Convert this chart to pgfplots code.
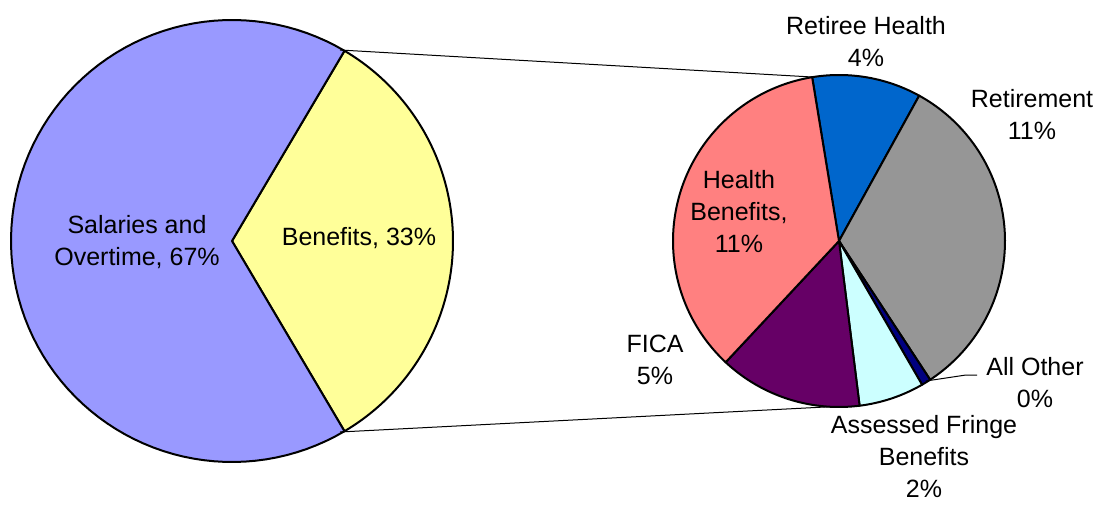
\documentclass[border=0pt]{standalone}
\usepackage{pgfplots}
\pgfplotsset{compat=1.18}
\usepackage{fontspec}
\setmainfont{Liberation Sans}
\definecolor{salc}{HTML}{9999FF}
\definecolor{benc}{HTML}{FFFF99}
\definecolor{rhc}{HTML}{0066CC}
\definecolor{retc}{HTML}{969696}
\definecolor{aoc}{HTML}{000080}
\definecolor{afc}{HTML}{CCFFFF}
\definecolor{ficac}{HTML}{660066}
\definecolor{hbc}{HTML}{FF8080}
% slice: cx cy r from-angle to-angle colour
\newcommand{\slice}[6]{%
  \addplot[draw=black, line width=1pt, fill=#6, line join=round, domain=#4:#5, samples=90, variable=\t]
    ({#1+#3*cos(\t)},{#2+#3*sin(\t)}) -- (axis cs:#1,#2) -- cycle;
}
\tikzset{lbl/.style={font=\fontsize{12.5}{16}\selectfont, align=center, text=black, inner sep=0pt}}
\begin{document}
\begin{tikzpicture}
% main pie: Salaries and Overtime 67, Benefits 33
\pgfmathsetmacro\mainB{33/100*360/2}
\pgfmathsetmacro\mainS{360-\mainB}
% secondary pie (shares of total): Retiree Health 3.5, Retirement 10.8, All Other 0.3,
% Assessed Fringe 2.1, FICA 4.6, Health Benefits 11.7  (sum 33)
\pgfmathsetmacro\aO{99.3}
\pgfmathsetmacro\aA{\aO-3.5/33*360}
\pgfmathsetmacro\aB{\aA-10.8/33*360}
\pgfmathsetmacro\aC{\aB-0.3/33*360}
\pgfmathsetmacro\aD{\aC-2.1/33*360}
\pgfmathsetmacro\aE{\aD-4.6/33*360}
\pgfmathsetmacro\aF{\aE-11.7/33*360}
\begin{axis}[
  scale only axis, width=549pt, height=252pt,
  xmin=0, xmax=1098, ymin=0, ymax=504,
  hide axis, clip=false,
]
\addplot[draw=none] coordinates {(0,0) (1098,504)};
% main pie
\slice{232}{263}{221}{-\mainB}{\mainB}{benc}
\slice{232}{263}{221}{\mainB}{\mainS}{salc}
% secondary pie
\slice{839}{263}{166}{\aA}{\aO}{rhc}
\slice{839}{263}{166}{\aB}{\aA}{retc}
\slice{839}{263}{166}{\aC}{\aB}{aoc}
\slice{839}{263}{166}{\aD}{\aC}{afc}
\slice{839}{263}{166}{\aE}{\aD}{ficac}
\slice{839}{263}{166}{\aF}{\aE}{hbc}
% connector lines
\addplot[black, line width=0.5pt] coordinates {(340,454) (812,427)};
\addplot[black, line width=0.5pt] coordinates {(340,72) (835,97.5)};
\addplot[black, line width=0.5pt] coordinates {(926,123) (966,129) (977,129)};
% labels
\node[lbl] at (axis cs:137,262) {Salaries and\\Overtime, 67\%};
\node[lbl] at (axis cs:359,266) {Benefits, 33\%};
\node[lbl] at (axis cs:866,462) {Retiree Health\\4\%};
\node[lbl] at (axis cs:1032,389) {Retirement\\11\%};
\node[lbl] at (axis cs:739,292) {Health\\Benefits,\\11\%};
\node[lbl] at (axis cs:655,144) {FICA\\5\%};
\node[lbl] at (axis cs:1035,121) {All Other\\0\%};
\node[lbl] at (axis cs:924,47) {Assessed Fringe\\Benefits\\2\%};
\end{axis}
\end{tikzpicture}
\end{document}
